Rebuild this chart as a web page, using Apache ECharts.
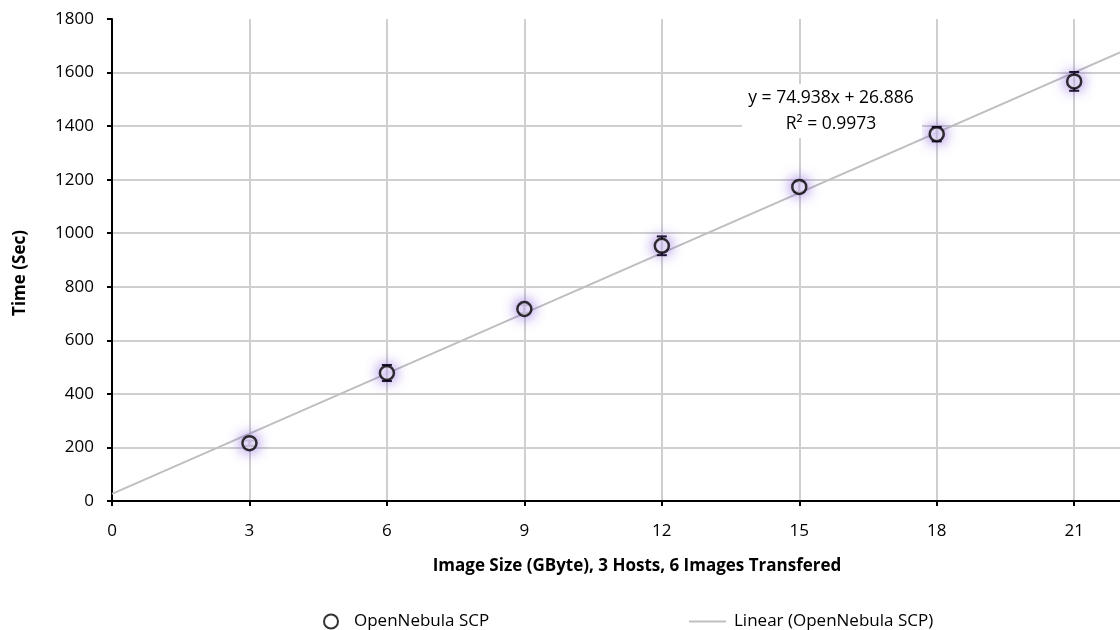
<!DOCTYPE html>
<html>
<head>
<meta charset="utf-8">
<script src="https://cdn.jsdelivr.net/npm/echarts@6/dist/echarts.min.js"></script>
<style>html,body{margin:0;padding:0;background:#fff}#c{width:1120px;height:630px}</style>
</head>
<body>
<div id="c"></div>
<script>
// Data
const imageSizes = [3, 6, 9, 12, 15, 18, 21];
const times = [216, 478, 717, 953, 1173, 1370, 1567];
const errors = [10, 30, 15, 35, 18, 27, 35];
const trendSlope = 74.938;
const trendIntercept = 26.886;
const rSquared = 0.9973;
const xTicks = [0, 3, 6, 9, 12, 15, 18, 21];
const yTicks = [0, 200, 400, 600, 800, 1000, 1200, 1400, 1600, 1800];
const seriesName = 'OpenNebula SCP';
const trendName = 'Linear (OpenNebula SCP)';

const FONT = '"Open Sans", "Noto Sans", sans-serif';
const xMax = 22;
const trendData = [[0, trendIntercept], [xMax, trendSlope * xMax + trendIntercept]];
const scatterData = imageSizes.map((x, i) => [x, times[i]]);
const errData = imageSizes.map((x, i) => [x, times[i] - errors[i], times[i] + errors[i]]);

const chart = echarts.init(document.getElementById('c'), null, {renderer: 'canvas'});
chart.setOption({
  backgroundColor: '#ffffff',
  animation: false,
  grid: {left: 112, top: 19, right: 0, bottom: 129, containLabel: false},
  xAxis: {
    type: 'value', min: 0, max: xMax, interval: 3,
    axisLine: {lineStyle: {color: '#000', width: 2}},
    axisTick: {show: true, inside: false, length: 5, lineStyle: {color: '#000', width: 2}},
    axisLabel: {color: '#000', fontSize: 17, fontFamily: FONT, margin: 22, showMaxLabel: false,
      formatter: v => String(v)},
    splitLine: {show: true, showMaxLine: false, lineStyle: {color: '#cfcfcf', width: 2}}
  },
  yAxis: {
    type: 'value', min: 0, max: 1800, interval: 200,
    axisLine: {show: true, lineStyle: {color: '#000', width: 2}},
    axisTick: {show: true, inside: false, length: 5, lineStyle: {color: '#000', width: 2}},
    axisLabel: {color: '#000', fontSize: 17, fontFamily: FONT, margin: 18, formatter: v => String(v)},
    splitLine: {show: true, showMaxLine: false, lineStyle: {color: '#cfcfcf', width: 2}}
  },
  legend: [
    {data: [{name: seriesName, icon: 'circle', itemStyle: {color: '#fff', borderColor: '#000', borderWidth: 2, shadowBlur: 0}}],
     left: 318, top: 608, itemWidth: 14, itemHeight: 14, itemGap: 0,
     textStyle: {fontSize: 17, fontFamily: FONT, color: '#000', padding: [0, 0, 0, 11]}},
    {data: [{name: trendName, icon: 'rect', itemStyle: {color: '#bfbfbf'}}], left: 684, top: 608,
     itemWidth: 37, itemHeight: 2,
     textStyle: {fontSize: 17, fontFamily: FONT, color: '#000', padding: [0, 0, 0, 3]}}
  ],
  graphic: [
    {type: 'text', x: 637, y: 566, z: 100,
     style: {text: 'Image Size (GByte), 3 Hosts, 6 Images Transfered', align: 'center', verticalAlign: 'middle',
       font: 'bold 17px ' + FONT, fill: '#000'}},
    {type: 'text', rotation: Math.PI / 2, x: 20, y: 273, z: 100,
     style: {text: 'Time (Sec)', align: 'center', verticalAlign: 'middle', font: 'bold 17px ' + FONT, fill: '#000'}},
    {type: 'rect', x: 742, y: 84, z: 100, shape: {x: 0, y: 0, width: 180, height: 54}, style: {fill: '#fff'}},
    {type: 'text', x: 831, y: 98, z: 101,
     style: {text: 'y = ' + trendSlope.toFixed(3) + 'x + ' + trendIntercept.toFixed(3), align: 'center',
       verticalAlign: 'middle', font: '17.5px ' + FONT, fill: '#000'}},
    {type: 'text', x: 831, y: 124, z: 101,
     style: {text: 'R\u00b2 = ' + rSquared.toFixed(4), align: 'center', verticalAlign: 'middle',
       font: '17.5px ' + FONT, fill: '#000'}}
  ],
  series: [
    {
      name: trendName, type: 'line', data: trendData, showSymbol: false, symbol: 'none',
      lineStyle: {color: '#bfbfbf', width: 2}, itemStyle: {color: '#bfbfbf'}, z: 3, silent: true
    },
    {
      name: 'err', type: 'custom', data: errData, z: 4,
      renderItem: function (params, api) {
        const x = api.value(0);
        const lo = api.coord([x, api.value(1)]);
        const hi = api.coord([x, api.value(2)]);
        const hw = 5;
        const st = {stroke: '#000', lineWidth: 2};
        return {type: 'group', children: [
          {type: 'line', shape: {x1: lo[0], y1: lo[1], x2: hi[0], y2: hi[1]}, style: st},
          {type: 'line', shape: {x1: lo[0] - hw, y1: lo[1], x2: lo[0] + hw, y2: lo[1]}, style: st},
          {type: 'line', shape: {x1: hi[0] - hw, y1: hi[1], x2: hi[0] + hw, y2: hi[1]}, style: st}
        ]};
      }
    },
    {
      name: seriesName, type: 'scatter', data: scatterData, symbol: 'circle', symbolSize: 14, z: 6,
      itemStyle: {color: '#fff', borderColor: '#000', borderWidth: 2.5,
        shadowBlur: 14, shadowColor: 'rgba(130,80,220,1)'}
    }
  ]
});
</script>
</body>
</html>
